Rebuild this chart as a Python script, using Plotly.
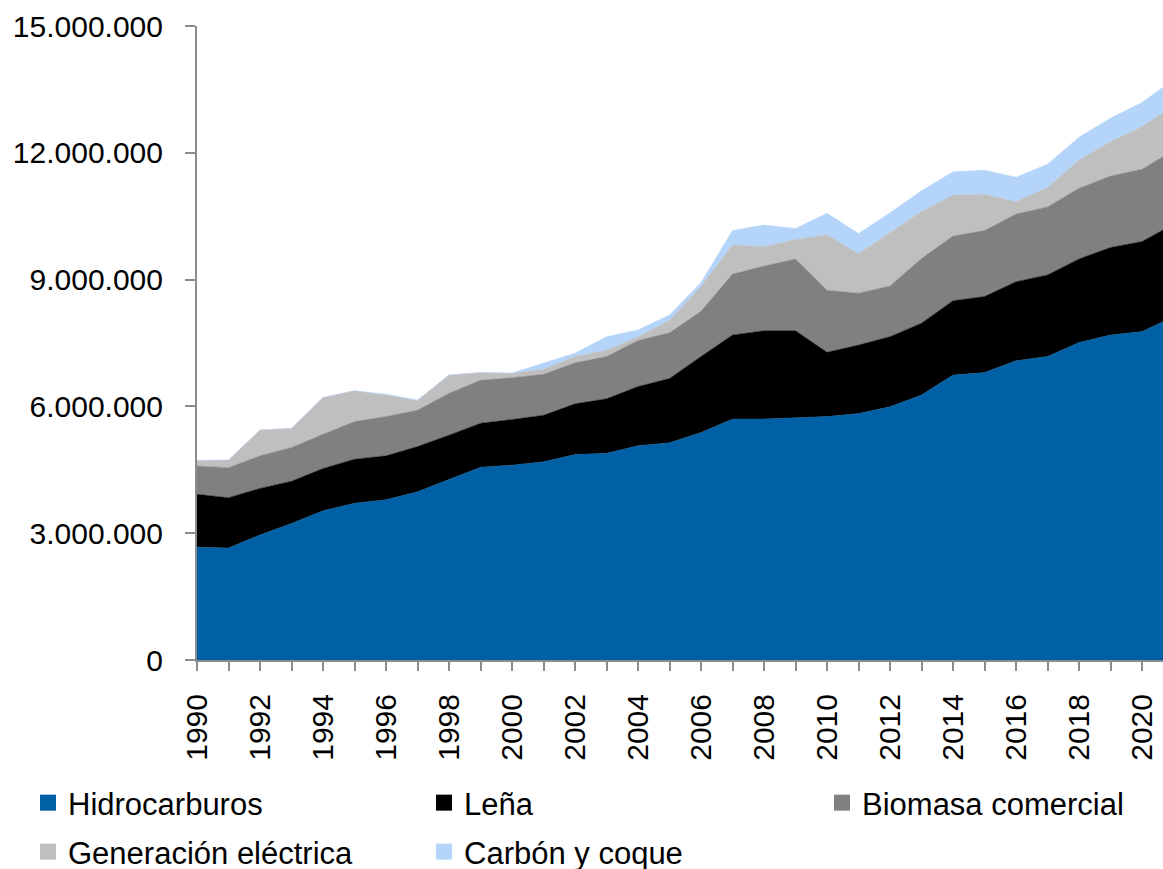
import plotly.graph_objects as go

years = list(range(1990, 2022))

# thousands of units
hidrocarburos = [2670, 2650, 2960, 3230, 3530, 3710, 3790, 3980, 4270, 4560, 4610, 4690, 4860, 4890, 5070, 5140,
                 5380, 5700, 5700, 5730, 5760, 5830, 5990, 6270, 6740, 6800, 7080, 7180, 7510, 7690, 7770, 8120]
lena = [1250, 1190, 1100, 1000, 1000, 1040, 1040, 1070, 1050, 1040, 1080, 1100, 1200, 1290, 1400, 1520,
        1800, 1990, 2090, 2060, 1520, 1620, 1660, 1700, 1760, 1800, 1870, 1930, 1980, 2070, 2130, 2190]
biomasa = [670, 710, 770, 800, 810, 890, 930, 860, 990, 1020, 990, 970, 970, 1000, 1090, 1080,
           1070, 1440, 1530, 1700, 1470, 1230, 1200, 1530, 1530, 1560, 1600, 1610, 1670, 1690, 1710, 1750]
generacion = [130, 180, 610, 450, 870, 730, 510, 230, 430, 180, 100, 120, 150, 150, 90, 300,
              590, 690, 460, 460, 1310, 930, 1260, 1110, 970, 860, 290, 460, 670, 810, 1010, 1050]
carbon = [0, 0, 0, 0, 0, 0, 20, 10, 0, 0, 10, 150, 80, 320, 160, 120,
          90, 340, 510, 260, 510, 480, 470, 490, 550, 570, 580, 550, 540, 560, 570, 620]

SERIES = [
    ("Hidrocarburos", hidrocarburos, "#0060A5"),
    ("Leña", lena, "#000000"),
    ("Biomasa comercial", biomasa, "#808080"),
    ("Generación eléctrica", generacion, "#BFBFBF"),
    ("Carbón y coque", carbon, "#B4D4FA"),
]
# legend slots (left px, centre px), 3 + 2 layout
LEGEND_SLOTS = [(28, 803), (424, 803), (822, 803), (28, 852), (424, 852)]

FONT = "Liberation Sans, Arial, sans-serif"
AXIS_GREY = "#8C8C8C"
W, H = 1163, 869

fig = go.Figure()
for name, values, color in SERIES:
    fig.add_trace(
        go.Scatter(
            x=years,
            y=[v * 1000 for v in values],
            name=name,
            mode="lines",
            stackgroup="one",
            line=dict(color=color, width=0.5),
            fillcolor=color,
            showlegend=False,
        )
    )

legends = {}
for i, ((name, values, color), (lx, ly)) in enumerate(zip(SERIES, LEGEND_SLOTS)):
    key = "legend" if i == 0 else f"legend{i + 1}"
    fig.add_trace(
        go.Scatter(
            x=[None],
            y=[None],
            name=name,
            mode="markers",
            marker=dict(symbol="square", size=16, color=color),
            legend=key,
        )
    )
    legends[key] = dict(
        orientation="h",
        xref="container",
        yref="container",
        xanchor="left",
        yanchor="middle",
        x=lx / W,
        y=1 - ly / H,
        font=dict(family=FONT, size=31, color="#000000"),
        bgcolor="rgba(0,0,0,0)",
        itemclick=False,
    )

fig.update_layout(
    width=W,
    height=H,
    margin=dict(l=197, r=0, t=26, b=209),
    plot_bgcolor="white",
    paper_bgcolor="white",
    separators=",.",
    font=dict(family=FONT, size=30, color="#000000"),
    showlegend=True,
    **legends,
)
fig.update_xaxes(
    range=[1990, 1990 + (1163 - 197) / 31.5],
    tick0=1990,
    dtick=2,
    tickangle=-90,
    ticks="outside",
    ticklen=9,
    tickwidth=2,
    tickcolor=AXIS_GREY,
    minor=dict(dtick=1, ticks="outside", ticklen=9, tickwidth=2, tickcolor=AXIS_GREY),
    ticklabelstandoff=11,
    showline=True,
    linecolor=AXIS_GREY,
    linewidth=2,
    showgrid=False,
    zeroline=False,
    automargin=False,
    tickfont=dict(size=30),
)
fig.update_yaxes(
    range=[0, 15000000],
    dtick=3000000,
    tickformat=",d",
    ticks="outside",
    ticklen=10,
    tickwidth=2,
    tickcolor=AXIS_GREY,
    ticklabelstandoff=16,
    showline=True,
    linecolor=AXIS_GREY,
    linewidth=2,
    showgrid=False,
    zeroline=False,
    automargin=False,
    tickfont=dict(size=30),
)

# drop the default page margin so the figure fills the window exactly
fig.write_html(
    "out.html",
    config={"displayModeBar": False},
    post_script="document.body.style.margin='0';document.body.style.overflow='hidden';",
)
